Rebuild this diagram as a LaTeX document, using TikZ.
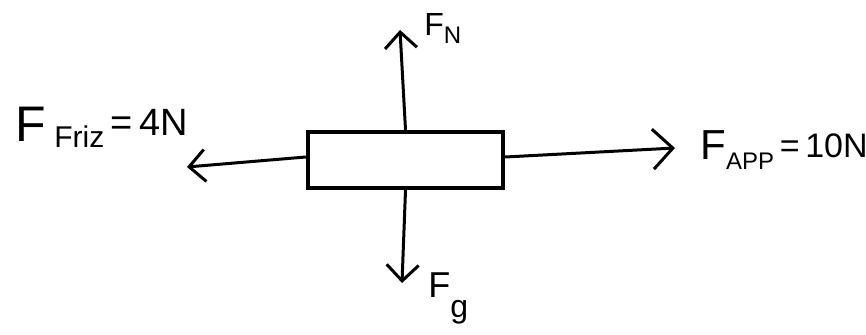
\documentclass[tikz,border=0pt]{standalone}
\usepackage{fontspec}
\setmainfont{Liberation Sans}
\usetikzlibrary{arrows.meta}
\tikzset{
  force/.style={line width=1.5pt, -{Straight Barb[length=8pt,width=16pt,line width=1.5pt]}},
  bigforce/.style={line width=1.5pt, -{Straight Barb[length=10pt,width=20pt,line width=1.5pt]}},
  body/.style={draw, line width=2.2pt, minimum width=97.5pt, minimum height=28pt, inner sep=0pt},
  lbl/.style={anchor=west, inner sep=0pt}
}
\newcommand{\fsz}[1]{\fontsize{#1}{#1}\selectfont}
\begin{document}
\begin{tikzpicture}[x=0.5pt,y=-0.5pt]
\useasboundingbox (0,0) rectangle (866,335);
\node[body] (box) at (405.5,160) {};
\coordinate (up) at (400,30);
\coordinate (down) at (402,283);
\coordinate (left) at (187,167);
\coordinate (right) at (675,148);
\draw[force] (box.north) -- (up);
\draw[force] (box.south) -- (down);
\draw[force] ([yshift=1.5pt]box.west) -- (left);
\draw[bigforce] ([yshift=1.5pt]box.east) -- (right);
\node[lbl] (fn) at (424,28) {\fsz{16}F\raisebox{-4pt}{\fsz{12}N}};
\node[lbl] (fg) at (428,298) {\fsz{18}F\raisebox{-10pt}{\fsz{16}g}};
\node[lbl] (ff) at (15,127) {\fsz{25}F\,\raisebox{-3pt}{\fsz{15}Friz}\raisebox{3pt}{\fsz{19}\,=\,4N}};
\node[lbl] (fa) at (700,150) {\fsz{21}F\raisebox{-5pt}{\fsz{12}APP}\raisebox{1pt}{\fsz{17}\,=\,10N}};
\end{tikzpicture}
\end{document}
